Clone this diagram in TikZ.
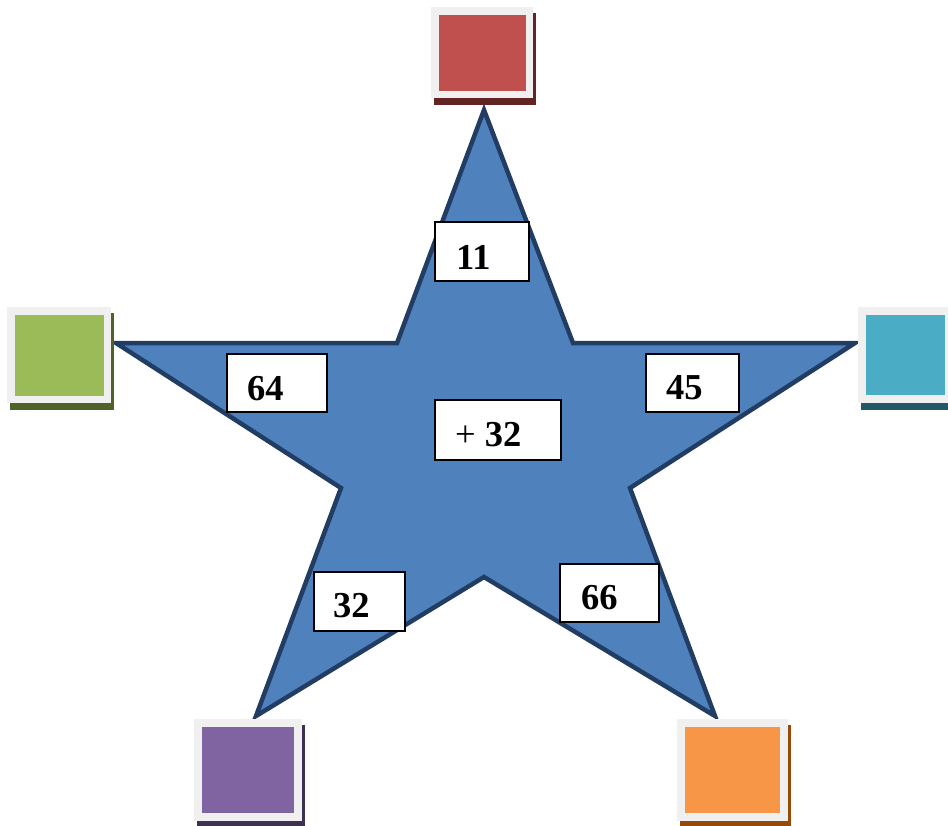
\documentclass[tikz,border=0pt]{standalone}
\usepackage{fontspec}
\setmainfont{Liberation Serif}
\definecolor{starfill}{HTML}{4F81BD}
\definecolor{starline}{HTML}{223D63}
\definecolor{framegray}{HTML}{F0F0F0}
\definecolor{cred}{HTML}{C0504D}\definecolor{sred}{HTML}{632523}
\definecolor{cgreen}{HTML}{9BBB59}\definecolor{sgreen}{HTML}{4F6228}
\definecolor{cteal}{HTML}{4BACC6}\definecolor{steal}{HTML}{215968}
\definecolor{cpurple}{HTML}{8064A2}\definecolor{spurple}{HTML}{3F3151}
\definecolor{corange}{HTML}{F79646}\definecolor{sorange}{HTML}{984807}
\begin{document}
\begin{tikzpicture}[x=1pt,y=-1pt,
  numbox/.style={draw=black,line width=1.8pt,fill=white},
  numtext/.style={anchor=base west,inner sep=0pt,font=\fontsize{36.5}{42}\selectfont\bfseries},
  optext/.style={anchor=base west,inner sep=0pt,font=\fontsize{36.5}{42}\selectfont}]
\useasboundingbox (0,0) rectangle (948,825);
% star
\draw[fill=starfill,draw=starline,line width=4.5pt,line join=miter]
  (484,110) -- (573,343) -- (855,343) -- (630,488) -- (715,716) -- (484,577)
  -- (256,716) -- (341,488) -- (116,343) -- (397,343) -- cycle;
% squares: shadow, frame, colour
\newcommand{\colsq}[7]{% x1 y1 x2 y2 inset colour shadow
  \fill[#7] (#1+3,#2+6) rectangle (#3+3,#4+7);
  \fill[framegray] (#1,#2) rectangle (#3,#4);
  \fill[#6] (#1+#5,#2+#5) rectangle (#3-#5,#4-#5);}
\colsq{431}{7}{533}{98}{7.5}{cred}{sred}
\colsq{7}{307}{111}{403}{7.5}{cgreen}{sgreen}
\colsq{858}{307}{953}{403}{8}{cteal}{steal}
\colsq{194}{719}{302}{821}{8}{cpurple}{spurple}
\colsq{677}{719}{788}{821}{8}{corange}{sorange}
% number boxes
\node[numbox,minimum width=94pt,minimum height=59pt] (b11) at (482,251.5) {};
\node[numbox,minimum width=100pt,minimum height=58pt] (b64) at (277,383) {};
\node[numbox,minimum width=93pt,minimum height=58pt] (b45) at (692.5,383) {};
\node[numbox,minimum width=126pt,minimum height=60pt] (bop) at (498,430) {};
\node[numbox,minimum width=91pt,minimum height=59pt] (b32) at (359.5,601.5) {};
\node[numbox,minimum width=99pt,minimum height=58pt] (b66) at (609.5,593) {};
\node[numtext] (t11) at (456,269) {11};
\node[numtext] (t64) at (247,400) {64};
\node[numtext] (t45) at (666,399) {45};
\node[optext] (top) at (455,446) {+ \textbf{32}};
\node[numtext] (t32) at (333,617) {32};
\node[numtext] (t66) at (581,609) {66};
\end{tikzpicture}
\end{document}
